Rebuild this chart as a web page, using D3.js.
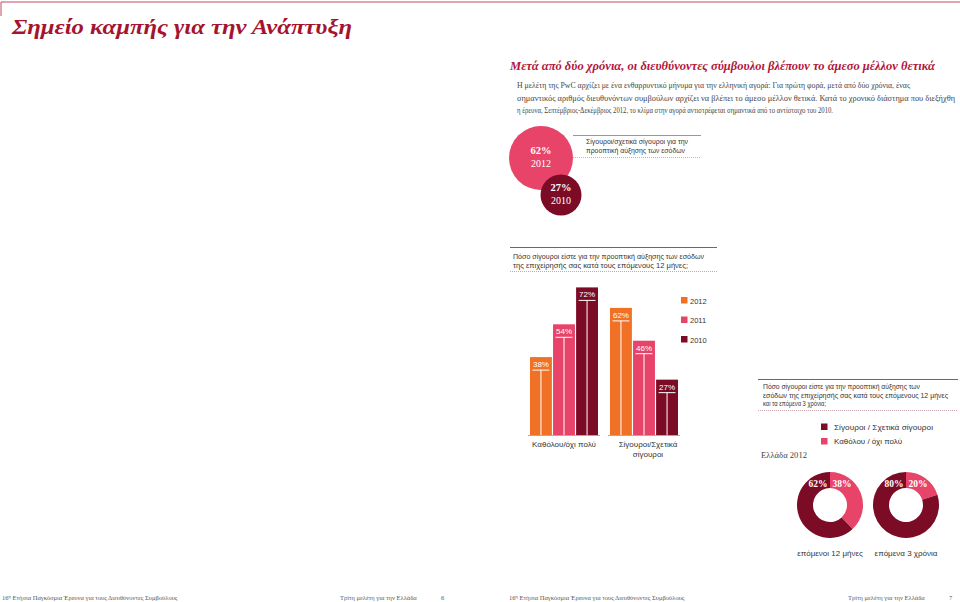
<!DOCTYPE html>
<html><head><meta charset="utf-8">
<script src="https://cdn.jsdelivr.net/npm/d3@7"></script>
<style>
html,body{margin:0;padding:0;background:#fff;}
svg{display:block;}
</style></head>
<body>
<script>
// ---- data ----
const categories = ["Καθόλου/όχι πολύ", "Σίγουροι/Σχετικά σίγουροι"];
const categoryLabelLines = [["Καθόλου/όχι πολύ"], ["Σίγουροι/Σχετικά", "σίγουροι"]];
const years = ["2012", "2011", "2010"];
const values2012 = [38, 62];
const values2011 = [54, 46];
const values2010 = [72, 27];
const circleValues = [62, 27];
const circleYears = ["2012", "2010"];
const donutNames = ["επόμενοι 12 μήνες", "επόμενα 3 χρόνια"];
const donutSure = [62, 80];
const donutNotSure = [38, 20];
const donutLegend = ["Σίγουροι / Σχετικά σίγουροι", "Καθόλου / όχι πολύ"];

const seriesValues = {"2012": values2012, "2011": values2011, "2010": values2010};
const colors = {"2012": "#f07125", "2011": "#e8446a", "2010": "#7c0b26"};
const darkRed = "#7c0b26", pink = "#e8446a";
const serif = "'Liberation Serif','DejaVu Serif',serif";
const sans = "'Liberation Sans',Arial,sans-serif";

const svg = d3.select("body").append("svg").attr("width", 960).attr("height", 602);

function txt(x, y, s, opt) {
  opt = opt || {};
  const t = svg.append("text").attr("x", x).attr("y", y).text(s)
    .attr("font-family", opt.family || sans)
    .attr("font-size", opt.size || 8)
    .attr("fill", opt.fill || "#333");
  if (opt.weight) t.attr("font-weight", opt.weight);
  if (opt.style) t.attr("font-style", opt.style);
  if (opt.anchor) t.attr("text-anchor", opt.anchor);
  if (opt.len) t.attr("textLength", opt.len).attr("lengthAdjust", "spacingAndGlyphs");
  return t;
}

// top frame line
svg.append("line").attr("x1", 1).attr("x2", 960).attr("y1", 2).attr("y2", 2).attr("stroke", "#c24a63").attr("stroke-width", 1);
svg.append("line").attr("x1", 1).attr("x2", 1).attr("y1", 2).attr("y2", 16).attr("stroke", "#c24a63").attr("stroke-width", 1);

// title
txt(12, 34, "Σημείο καμπής για την Ανάπτυξη", {family: serif, size: 22, weight: "bold", style: "italic", fill: "#a5142f", len: 340});

// subtitle
txt(510, 70, "Μετά από δύο χρόνια, οι διευθύνοντες σύμβουλοι βλέπουν το άμεσο μέλλον θετικά", {family: serif, size: 13, weight: "bold", style: "italic", fill: "#b3163a", len: 425});

// paragraph
const para = [
  ["Η μελέτη της PwC αρχίζει με ένα ενθαρρυντικό μήνυμα για την ελληνική αγορά:  Για πρώτη φορά, μετά από δύο χρόνια, ένας", 393],
  ["σημαντικός αριθμός διευθυνόντων συμβούλων αρχίζει να βλέπει το άμεσο μέλλον θετικά.  Κατά το χρονικό διάστημα που διεξήχθη", 438],
  ["η έρευνα, Σεπτέμβριος-Δεκέμβριος 2012, το κλίμα στην αγορά αντιστρέφεται σημαντικά από το αντίστοιχο του 2010.", 316]
];
para.forEach((p, i) => txt(517, 88 + i * 12.5, p[0], {family: serif, size: 8, fill: "#444", len: p[1]}));

// circles
const rScale = d3.scaleSqrt().domain([0, 62]).range([0, 32]);
const circ = [{c: [541, 158], v: circleValues[0], y: circleYears[0], col: pink, r: 32},
              {c: [561, 195], v: circleValues[1], y: circleYears[1], col: darkRed, r: 20.5}];
circ.forEach(d => {
  svg.append("circle").attr("cx", d.c[0]).attr("cy", d.c[1]).attr("r", d.r).attr("fill", d.col);
});
circ.forEach(d => {
  txt(d.c[0], d.c[1] - 4, d.v + "%", {family: serif, size: 10.5, weight: "bold", fill: "#fff", anchor: "middle"});
  txt(d.c[0], d.c[1] + 9, d.y, {family: serif, size: 10, fill: "#fff", anchor: "middle"});
});
svg.append("line").attr("x1", 573).attr("x2", 701).attr("y1", 135.5).attr("y2", 135.5).attr("stroke", "#999");
svg.append("line").attr("x1", 573).attr("x2", 701).attr("y1", 157.5).attr("y2", 157.5).attr("stroke", "#bbb").attr("stroke-dasharray", "1,1");
txt(586, 144, "Σίγουροι/σχετικά σίγουροι για την", {size: 7, fill: "#333", len: 102});
txt(586, 152.5, "προοπτική αύξησης των εσόδων", {size: 7, fill: "#333", len: 99});

// question 1
svg.append("line").attr("x1", 510).attr("x2", 717).attr("y1", 247.5).attr("y2", 247.5).attr("stroke", "#c0405c");
txt(513, 259, "Πόσο σίγουροι είστε για την προοπτική αύξησης των εσόδων", {size: 7, fill: "#333", len: 191});
txt(513, 268, "της επιχείρησής σας κατά τους επόμενους 12 μήνες;", {size: 7, fill: "#333", len: 175});
svg.append("line").attr("x1", 510).attr("x2", 717).attr("y1", 271.5).attr("y2", 271.5).attr("stroke", "#c9a6ae").attr("stroke-dasharray", "1,1");

// bar chart
const baseY = 435;
const y = d3.scaleLinear().domain([0, 100]).range([baseY, baseY - 205]);
const x0 = d3.scaleBand().domain(categories).range([530, 678]).paddingInner(0.15);
const x1 = d3.scaleBand().domain(years).range([0, x0.bandwidth()]).paddingInner(0.05);

const groups = svg.append("g").selectAll("g").data(categories).join("g")
  .attr("transform", c => `translate(${x0(c)},0)`);
groups.each(function(c, ci) {
  const g = d3.select(this);
  years.forEach(yr => {
    const v = seriesValues[yr][ci];
    const bx = x1(yr), bw = x1.bandwidth(), top = y(v);
    g.append("rect").attr("x", bx).attr("y", top).attr("width", bw).attr("height", baseY - top).attr("fill", colors[yr]);
    g.append("line").attr("x1", bx + 2.5).attr("x2", bx + bw - 2.5).attr("y1", top + 13).attr("y2", top + 13).attr("stroke", "#fff").attr("stroke-width", 1);
    g.append("line").attr("x1", bx + bw / 2).attr("x2", bx + bw / 2).attr("y1", top + 13).attr("y2", baseY).attr("stroke", "#fff").attr("stroke-width", 1);
    g.append("text").attr("x", bx + bw / 2).attr("y", top + 10).attr("text-anchor", "middle")
      .attr("font-family", sans).attr("font-size", 8).attr("fill", "#fff").text(v + "%");
  });
  g.append("line").attr("x1", -2).attr("x2", x0.bandwidth() + 2).attr("y1", baseY + 0.5).attr("y2", baseY + 0.5).attr("stroke", "#aaa");
  categoryLabelLines[ci].forEach((l, li) => {
    g.append("text").attr("x", x0.bandwidth() / 2 + (ci === 1 ? 4 : 0)).attr("y", baseY + 12 + li * 10).attr("text-anchor", "middle")
      .attr("font-family", sans).attr("font-size", 8).attr("fill", "#333").text(l);
  });
});

// bar legend
years.forEach((yr, i) => {
  svg.append("rect").attr("x", 681).attr("y", 297 + i * 19.5).attr("width", 6.5).attr("height", 6.5).attr("fill", colors[yr]);
  txt(690, 303.5 + i * 19.5, yr, {size: 7.5, fill: "#333"});
});

// question 2
svg.append("line").attr("x1", 758).attr("x2", 958).attr("y1", 379.5).attr("y2", 379.5).attr("stroke", "#c0405c");
txt(763, 389, "Πόσο σίγουροι είστε για την προοπτική αύξησης των", {size: 6.5, fill: "#333", len: 157});
txt(763, 397.5, "εσόδων της επιχείρησής σας κατά τους επόμενους 12 μήνες", {size: 6.5, fill: "#333", len: 185});
txt(763, 406, "και τα επόμενα 3 χρόνια;", {size: 6.5, fill: "#333", len: 63});
svg.append("line").attr("x1", 758).attr("x2", 958).attr("y1", 410.5).attr("y2", 410.5).attr("stroke", "#c9a6ae").attr("stroke-dasharray", "1,1");

// donut legend
[darkRed, pink].forEach((col, i) => {
  svg.append("rect").attr("x", 821).attr("y", 423.5 + i * 14.5).attr("width", 6.5).attr("height", 6.5).attr("fill", col);
  txt(834, 429.5 + i * 14.5, donutLegend[i], {size: 8, fill: "#333", len: i === 0 ? 99 : 68});
});
txt(761, 458, "Ελλάδα 2012", {family: serif, size: 8.5, fill: "#444", len: 46});

// donuts
const pie = d3.pie().sort(null).value(d => d.v);
const arc = d3.arc().innerRadius(17).outerRadius(33);
const donutCx = [830, 906], donutCy = 505;
donutNames.forEach((name, i) => {
  const data = [{k: "not", v: donutNotSure[i], col: pink}, {k: "sure", v: donutSure[i], col: darkRed}];
  const g = svg.append("g").attr("transform", `translate(${donutCx[i]},${donutCy})`);
  g.selectAll("path").data(pie(data)).join("path").attr("d", arc).attr("fill", d => d.data.col);
  const lr = 25, a = 0.5;
  g.append("text").attr("x", -lr * Math.sin(a)).attr("y", -lr * Math.cos(a) + 3.5).attr("text-anchor", "middle")
    .attr("font-family", serif).attr("font-size", 9.5).attr("font-weight", "bold").attr("fill", "#fff").text(donutSure[i] + "%");
  g.append("text").attr("x", lr * Math.sin(a)).attr("y", -lr * Math.cos(a) + 3.5).attr("text-anchor", "middle")
    .attr("font-family", serif).attr("font-size", 9.5).attr("font-weight", "bold").attr("fill", "#fff").text(donutNotSure[i] + "%");
  g.append("text").attr("x", 0).attr("y", 51).attr("text-anchor", "middle")
    .attr("font-family", sans).attr("font-size", 8).attr("fill", "#333").text(name);
});

// footer
function footer(x, y) {
  const t = svg.append("text").attr("x", x).attr("y", y).attr("font-family", serif).attr("font-size", 6.5).attr("fill", "#555");
  t.append("tspan").text("16");
  t.append("tspan").attr("font-size", 4.5).attr("dy", -2.5).text("η");
  t.append("tspan").attr("dy", 2.5).text(" Ετήσια Παγκόσμια Έρευνα για τους Διευθύνοντες Συμβούλους");
}
footer(2, 600);
txt(340, 600, "Τρίτη μελέτη για την Ελλάδα", {family: serif, size: 6.5, fill: "#555"});
txt(441, 600, "6", {family: serif, size: 6.5, fill: "#555"});
footer(509, 600);
txt(848, 600, "Τρίτη μελέτη για την Ελλάδα", {family: serif, size: 6.5, fill: "#555"});
txt(949, 600, "7", {family: serif, size: 6.5, fill: "#555"});
</script>
</body></html>
